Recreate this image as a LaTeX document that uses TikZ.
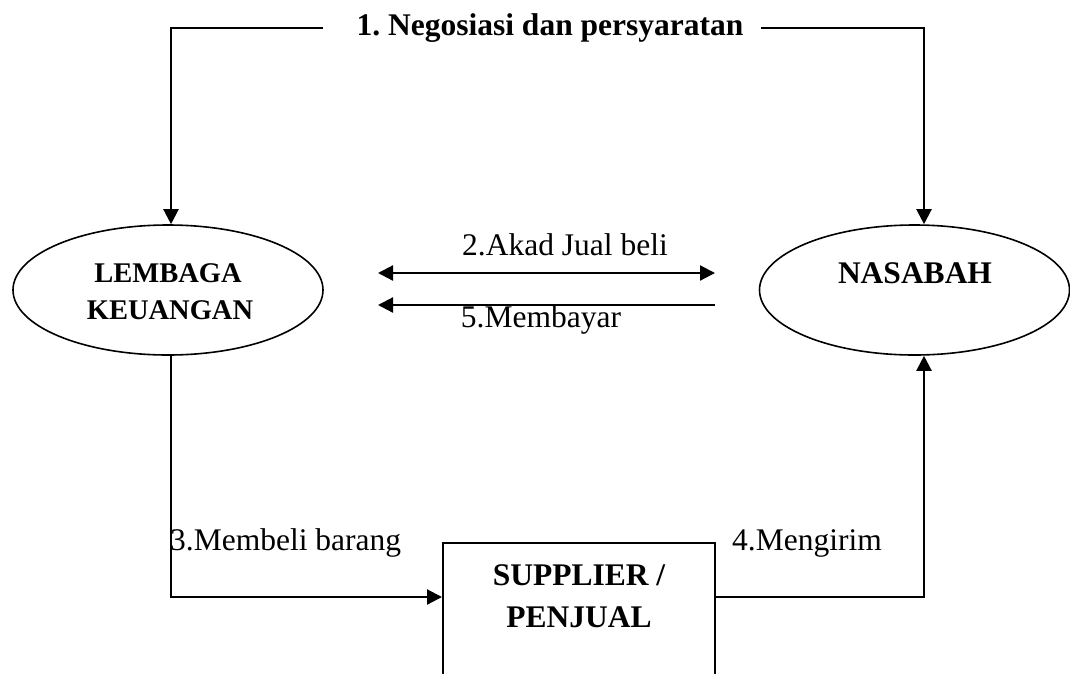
\documentclass[tikz,border=0pt]{standalone}
\usepackage{fontspec}
\setmainfont{Liberation Serif}
\usetikzlibrary{arrows.meta,shapes.geometric}
\frenchspacing
\tikzset{
  conn/.style={line width=2.2pt},
  tip/.style={-{Triangle[length=15pt,width=15pt]}},
  dtip/.style={{Triangle[length=15pt,width=15pt]}-{Triangle[length=15pt,width=15pt]}},
  ell/.style={ellipse,draw,line width=1.6pt,minimum width=310pt,minimum height=130pt,inner sep=0pt},
  boxsh/.style={rectangle,draw,line width=2pt,minimum width=272pt,minimum height=133pt,inner sep=0pt},
  lbl/.style={inner sep=0pt,anchor=base,font=\fontsize{31.5}{36}\selectfont},
  blbl/.style={inner sep=0pt,anchor=base,font=\fontsize{31.5}{36}\selectfont\bfseries},
  slbl/.style={inner sep=0pt,anchor=base,font=\fontsize{28.5}{34}\selectfont\bfseries}
}
\begin{document}
\begin{tikzpicture}[x=1pt,y=-1pt]
\useasboundingbox[fill=white] (0,0) rectangle (1070,673);
% nodes
\node[ell] (lk) at (168,290) {};
\node[ell] (nb) at (914.5,290) {};
\node[boxsh] (sp) at (579,609.5) {};
\node[slbl] (lkt1) at (168,282) {LEMBAGA};
\node[slbl] (lkt2) at (170,319) {KEUANGAN};
\node[blbl] (nbt) at (915,283) {NASABAH};
\node[blbl] (spt1) at (579,585) {SUPPLIER /};
\node[blbl] (spt2) at (579,627) {PENJUAL};
\node[blbl] (title) at (550,35) {1. Negosiasi dan persyaratan};
\node[lbl] (l2) at (565,255) {2.Akad Jual beli};
\node[lbl] (l5) at (541,327) {5.Membayar};
\node[lbl,anchor=base west] (l3) at (170,550) {3.Membeli barang};
\node[lbl,anchor=base west] (l4) at (732,550) {4.Mengirim};
% coordinates
\coordinate (tl1) at (323,28);
\coordinate (tlc) at (171,28);
\coordinate (tr1) at (761,28);
\coordinate (trc) at (924,28);
\coordinate (blc) at (171,597);
\coordinate (brc) at (924,597);
\coordinate (a1) at (378,273);
\coordinate (a2) at (715,273);
\coordinate (b1) at (378,305);
\coordinate (b2) at (715,305);
% connectors
\draw[conn,tip] (tl1) -- (tlc) -- (tlc |- lk.north);
\draw[conn,tip] (tr1) -- (trc) -- (trc |- nb.north);
\draw[conn,dtip] (a1) -- (a2);
\draw[conn,tip] (b2) -- (b1);
\draw[conn,tip] (blc |- lk.south) -- (blc) -- (sp.west |- blc);
\draw[conn,tip] (sp.east |- brc) -- (brc) -- (brc |- nb.south);
\end{tikzpicture}
\end{document}
